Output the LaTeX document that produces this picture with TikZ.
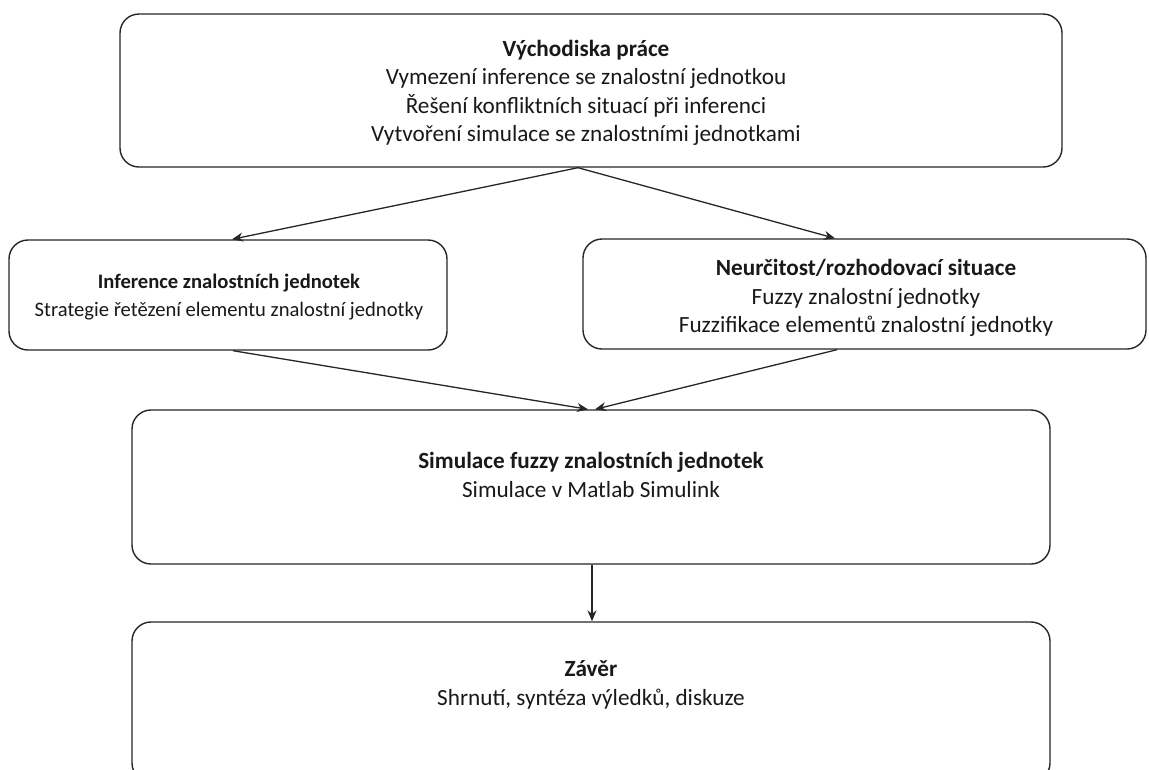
\documentclass[tikz,border=0pt]{standalone}
\usepackage{fontspec}
\setmainfont{Carlito}
\usetikzlibrary{arrows.meta}
\begin{document}
\begin{tikzpicture}[x=1pt,y=-1pt,
  box/.style={draw=black!85, line width=1.4pt, rounded corners=19pt, inner sep=0pt, fill=white},
  txt/.style={align=center, font=\fontsize{23.2}{28.5}\selectfont, text=black!90, inner sep=0pt},
  smalltxt/.style={txt, font=\fontsize{20.6}{28}\selectfont},
  link/.style={draw=black!85, line width=1.3pt, -{Stealth[length=11pt,width=9pt]}}]
\useasboundingbox (0,0) rectangle (1149,769);
\clip (0,0) rectangle (1149,769);

% boxes
\node[box, minimum width=942pt, minimum height=153pt] (top) at (591,90.5) {};
\node[box, minimum width=438pt, minimum height=110pt] (inf) at (228,295) {};
\node[box, minimum width=563pt, minimum height=110pt] (neu) at (864.5,294) {};
\node[box, minimum width=918pt, minimum height=154pt] (sim) at (591,487) {};
\node[box, minimum width=918pt, minimum height=160pt] (zav) at (591,702) {};

% labels
\node[txt] (toptxt) at (586,93) {\textbf{Východiska práce}\\Vymezení inference se znalostní jednotkou\\Řešení konfliktních situací při inferenci\\Vytvoření simulace se znalostními jednotkami};
\node[smalltxt] (inftxt) at (229,297) {\textbf{Inference znalostních jednotek}\\Strategie řetězení elementu znalostní jednotky};
\node[txt] (neutxt) at (866,298) {\textbf{Neurčitost/rozhodovací situace}\\Fuzzy znalostní jednotky\\Fuzzifikace elementů znalostní jednotky};
\node[txt] (simtxt) at (591,475) {\textbf{Simulace fuzzy znalostních jednotek}\\Simulace v Matlab Simulink};
\node[txt] (zavtxt) at (591,685) {\textbf{Závěr}\\Shrnutí, syntéza výledků, diskuze};

% connectors
\draw[link] ([xshift=-13pt]top.south) -- ([xshift=4pt]inf.north);
\draw[link] ([xshift=-13pt]top.south) -- ([xshift=-29.5pt]neu.north);
\draw[link] ([xshift=5pt]inf.south) -- ([xshift=-3pt]sim.north);
\draw[link] ([xshift=-27.5pt]neu.south) -- ([xshift=4pt]sim.north);
\draw[link] ([xshift=1pt]sim.south) -- ([xshift=1pt]zav.north);
\end{tikzpicture}
\end{document}
